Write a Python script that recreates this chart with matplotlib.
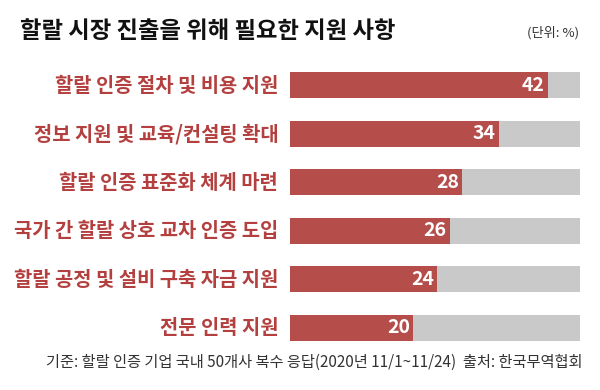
import matplotlib
matplotlib.use("Agg")
import matplotlib.pyplot as plt

plt.rcParams['font.family'] = ['Noto Sans CJK KR', 'DejaVu Sans']

categories = ["할랄 인증 절차 및 비용 지원", "정보 지원 및 교육/컨설팅 확대", "할랄 인증 표준화 체계 마련",
              "국가 간 할랄 상호 교차 인증 도입", "할랄 공정 및 설비 구축 자금 지원", "전문 인력 지원"]
values = [42, 34, 28, 26, 24, 20]
title = "할랄 시장 진출을 위해 필요한 지원 사항"
unit = "(단위: %)"
footer = "기준: 할랄 인증 기업 국내 50개사 복수 응답(2020년 11/1~11/24)  출처: 한국무역협회"

RED = "#b54d4b"
LABEL_RED = "#b3403f"
GRAY = "#c9c9c9"
BG_MAX = 47.2
H = 0.535

fig = plt.figure(figsize=(6, 3.9), dpi=100)
ax = fig.add_axes([290/600, 1-341/390, 290/600, (341-72)/390])
ys = list(range(len(categories)))
ax.barh(ys, [BG_MAX]*len(ys), height=H, color=GRAY, left=0)
ax.barh(ys, values, height=H, color=RED)
for y, v in zip(ys, values):
    ax.text(v - 0.5, y, str(v), ha='right', va='center', color='white',
            fontsize=14, fontweight='bold')
ax.set_xlim(0, BG_MAX)
ax.set_ylim(len(ys)-1+H/2, -H/2)
ax.axis('off')
for y, c in zip(ys, categories):
    ax.annotate(c, xy=(0, y), xycoords='data', xytext=(-8.5, 0), textcoords='offset points',
                ha='right', va='center', color=LABEL_RED, fontsize=14.3, fontweight='bold')

fig.text(20/600, 1-31/390, title, ha='left', va='center', fontsize=16.8, fontweight='heavy', color='#111111')
fig.text(579/600, 1-33/390, unit, ha='right', va='center', fontsize=9.5, color='#333333')
fig.text(583/600, 1-362/390, footer, ha='right', va='center', fontsize=11, color='#333333')

fig.savefig("out.png", dpi=100)
